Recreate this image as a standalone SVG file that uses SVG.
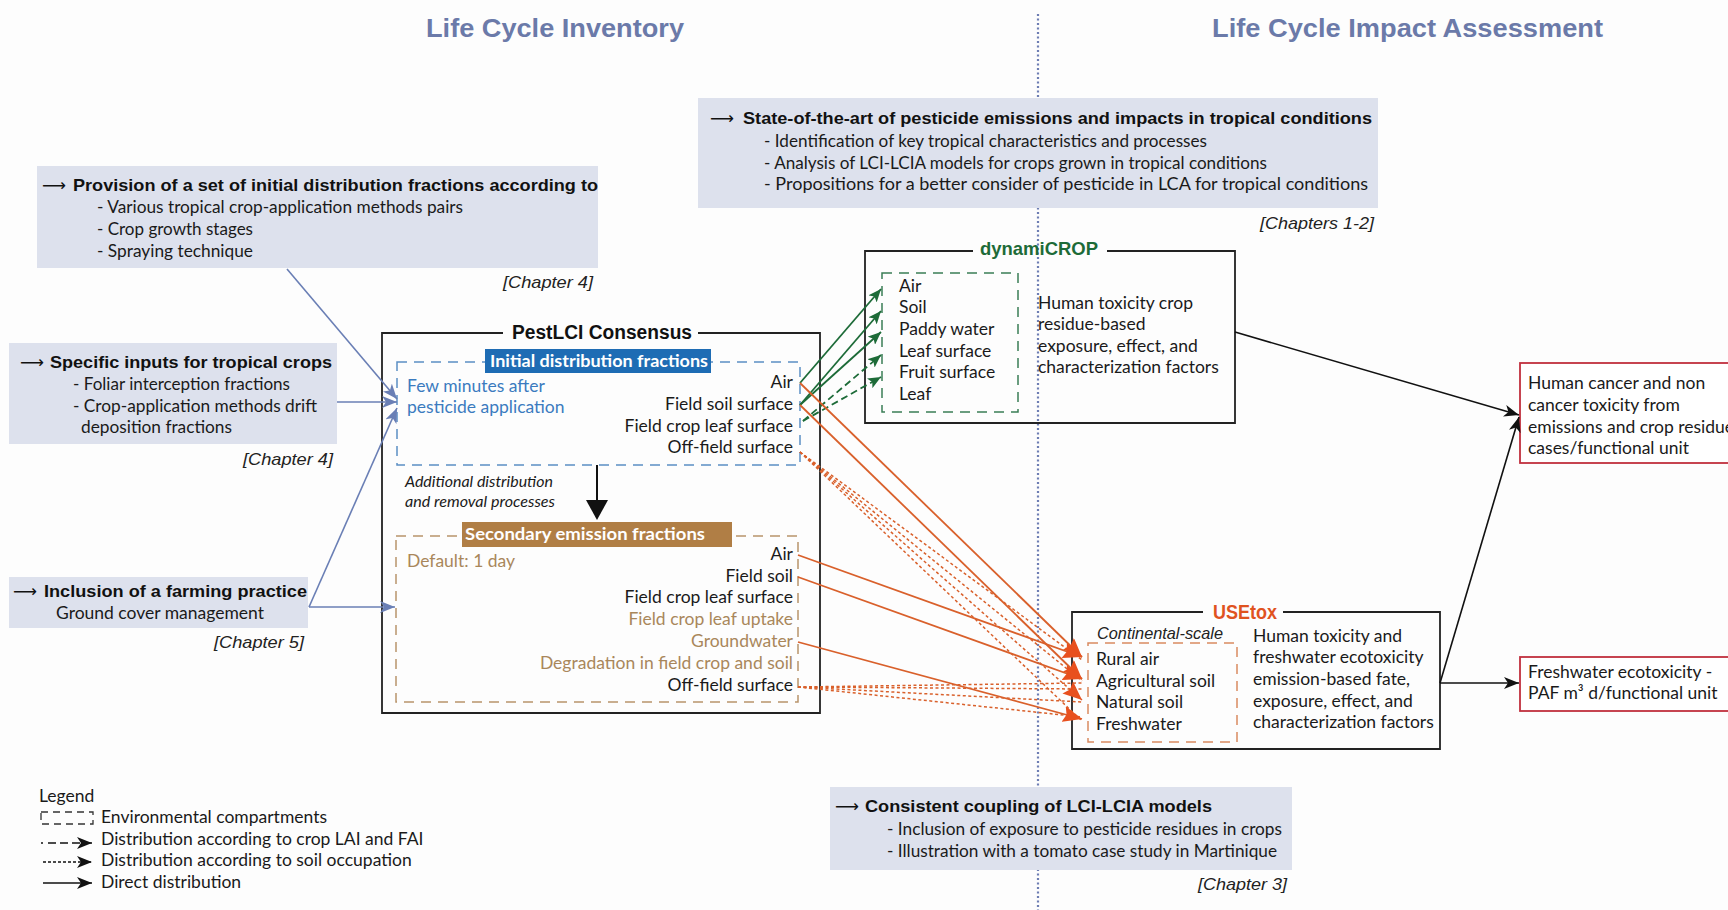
<svg xmlns="http://www.w3.org/2000/svg" width="1728" height="910" viewBox="0 0 1728 910">
<defs>
<style>
.t{font-family:Lato,"Open Sans","Liberation Sans",sans-serif;font-size:17.5px;fill:#1a1a1a}
.ti{font-family:Lato,"Open Sans",sans-serif;font-style:italic;font-size:16px;fill:#1a1a1a}
.b{font-family:"Liberation Sans",Arial,sans-serif;font-weight:bold;font-size:17px;fill:#111}
.arw{font-family:"DejaVu Sans","Liberation Sans",sans-serif;font-size:17px;fill:#111}
.ch{font-family:"Liberation Sans",Arial,sans-serif;font-style:italic;font-size:17px;fill:#222}
.hdr{font-family:"Liberation Sans",Arial,sans-serif;font-weight:bold;font-size:25px;fill:#6b7aa9}
.lbl{font-family:Lato,"Open Sans",sans-serif;font-weight:bold;font-size:17.5px;fill:#fff}
.gbox{fill:#dde1ed}
.frame{fill:none;stroke:#222;stroke-width:1.8}
.blue{stroke:#6a7fb5;stroke-width:1.6;fill:none;marker-end:url(#ab)}
.grn{stroke:#1d6b38;stroke-width:1.8;fill:none;marker-end:url(#ag)}
.grnd{stroke:#1d6b38;stroke-width:1.8;fill:none;stroke-dasharray:7 4;marker-end:url(#ag)}
.or{stroke:#d9602b;stroke-width:1.8;fill:none}
.ord{stroke:#d9602b;stroke-width:1.5;fill:none;stroke-dasharray:3 2.5}
.blk{stroke:#111;stroke-width:1.6;fill:none;marker-end:url(#ak)}
</style>
<marker id="ab" markerUnits="userSpaceOnUse" markerWidth="16" markerHeight="12" refX="15" refY="6" orient="auto"><path d="M0,0 L15,6 L0,12 L4,6 z" fill="#6a7fb5"/></marker>
<marker id="ag" markerUnits="userSpaceOnUse" markerWidth="14" markerHeight="11" refX="13" refY="5.5" orient="auto"><path d="M0,0 L13,5.5 L0,11 L3,5.5 z" fill="#1d6b38"/></marker>
<marker id="ao" markerUnits="userSpaceOnUse" markerWidth="20" markerHeight="16" refX="19" refY="8" orient="auto"><path d="M0,0 L19,8 L0,16 L3,8 z" fill="#e8501e"/></marker>
<marker id="ak" markerUnits="userSpaceOnUse" markerWidth="16" markerHeight="12" refX="15" refY="6" orient="auto"><path d="M0,0 L15,6 L0,12 L4,6 z" fill="#111"/></marker>
</defs>
<rect x="0" y="0" width="1728" height="910" fill="#fdfdfd"/>

<g id="headers">
<line x1="1038" y1="14" x2="1038" y2="910" stroke="#6d7db3" stroke-width="2.2" stroke-dasharray="2 2.5"/>
<text class="hdr" x="426" y="37" textLength="258" lengthAdjust="spacingAndGlyphs">Life Cycle Inventory</text>
<text class="hdr" x="1212" y="37" textLength="391" lengthAdjust="spacingAndGlyphs">Life Cycle Impact Assessment</text>
</g>

<g id="box-state">
<rect class="gbox" x="698" y="98" width="680" height="110"/>
<text class="arw" x="710" y="124" textLength="24" lengthAdjust="spacingAndGlyphs">⟶</text>
<text class="b" x="743" y="124" textLength="629" lengthAdjust="spacingAndGlyphs">State-of-the-art of pesticide emissions and impacts in tropical conditions</text>
<text class="t" x="764" y="147" textLength="443" lengthAdjust="spacingAndGlyphs">- Identification of key tropical characteristics and processes</text>
<text class="t" x="764" y="169" textLength="503" lengthAdjust="spacingAndGlyphs">- Analysis of LCI-LCIA models for crops grown in tropical conditions</text>
<text class="t" x="764" y="190" textLength="604" lengthAdjust="spacingAndGlyphs">- Propositions for a better consider of pesticide in LCA for tropical conditions</text>
<text class="ch" x="1260" y="229" textLength="114" lengthAdjust="spacingAndGlyphs">[Chapters 1-2]</text>
</g>

<g id="box-provision">
<rect class="gbox" x="37" y="166" width="561" height="102"/>
<text class="arw" x="42" y="191" textLength="24" lengthAdjust="spacingAndGlyphs">⟶</text>
<text class="b" x="73" y="191" textLength="525" lengthAdjust="spacingAndGlyphs">Provision of a set of initial distribution fractions according to</text>
<text class="t" x="97" y="213" textLength="366" lengthAdjust="spacingAndGlyphs">- Various tropical crop-application methods pairs</text>
<text class="t" x="97" y="235" textLength="156" lengthAdjust="spacingAndGlyphs">- Crop growth stages</text>
<text class="t" x="97" y="257" textLength="156" lengthAdjust="spacingAndGlyphs">- Spraying technique</text>
<text class="ch" x="503" y="288" textLength="90" lengthAdjust="spacingAndGlyphs">[Chapter 4]</text>
</g>

<g id="box-specific">
<rect class="gbox" x="9" y="343" width="328" height="101"/>
<text class="arw" x="20" y="368" textLength="24" lengthAdjust="spacingAndGlyphs">⟶</text>
<text class="b" x="50" y="368" textLength="282" lengthAdjust="spacingAndGlyphs">Specific inputs for tropical crops</text>
<text class="t" x="73" y="390" textLength="217" lengthAdjust="spacingAndGlyphs">- Foliar interception fractions</text>
<text class="t" x="73" y="412" textLength="244" lengthAdjust="spacingAndGlyphs">- Crop-application methods drift</text>
<text class="t" x="81" y="433" textLength="151" lengthAdjust="spacingAndGlyphs">deposition fractions</text>
<text class="ch" x="243" y="465" textLength="90" lengthAdjust="spacingAndGlyphs">[Chapter 4]</text>
</g>

<g id="box-farming">
<rect class="gbox" x="9" y="577" width="299" height="51"/>
<text class="arw" x="13" y="597" textLength="24" lengthAdjust="spacingAndGlyphs">⟶</text>
<text class="b" x="44" y="597" textLength="263" lengthAdjust="spacingAndGlyphs">Inclusion of a farming practice</text>
<text class="t" x="56" y="619" textLength="208" lengthAdjust="spacingAndGlyphs">Ground cover management</text>
<text class="ch" x="214" y="648" textLength="90" lengthAdjust="spacingAndGlyphs">[Chapter 5]</text>
</g>

<g id="box-coupling">
<rect class="gbox" x="830" y="787" width="462" height="83"/>
<text class="arw" x="835" y="812" textLength="24" lengthAdjust="spacingAndGlyphs">⟶</text>
<text class="b" x="865" y="812" textLength="347" lengthAdjust="spacingAndGlyphs">Consistent coupling of LCI-LCIA models</text>
<text class="t" x="887" y="835" textLength="395" lengthAdjust="spacingAndGlyphs">- Inclusion of exposure to pesticide residues in crops</text>
<text class="t" x="887" y="857" textLength="390" lengthAdjust="spacingAndGlyphs">- Illustration with a tomato case study in Martinique</text>
<text class="ch" x="1198" y="890" textLength="89" lengthAdjust="spacingAndGlyphs">[Chapter 3]</text>
</g>

<g id="pestlci">
<path class="frame" d="M503,333 L382,333 L382,713 L820,713 L820,333 L698,333"/>
<text class="b" x="512" y="339" style="font-size:20px" textLength="180" lengthAdjust="spacingAndGlyphs">PestLCI Consensus</text>
<rect x="397" y="362" width="403" height="103" fill="none" stroke="#5b8ec4" stroke-width="1.5" stroke-dasharray="10 7"/>
<rect x="485" y="349" width="226" height="24" fill="#1e6cb4"/>
<text class="lbl" x="490" y="367" textLength="218" lengthAdjust="spacingAndGlyphs">Initial distribution fractions</text>
<text class="t" x="407" y="392" style="fill:#3b7bbf">Few minutes after</text>
<text class="t" x="407" y="413" style="fill:#3b7bbf">pesticide application</text>
<g text-anchor="end">
<text class="t" x="793" y="388">Air</text>
<text class="t" x="793" y="410">Field soil surface</text>
<text class="t" x="793" y="432">Field crop leaf surface</text>
<text class="t" x="793" y="453">Off-field surface</text>
</g>
<line x1="597" y1="465" x2="597" y2="503" stroke="#111" stroke-width="2"/>
<polygon points="586,500 608,500 597,520" fill="#111"/>
<text class="ti" x="405" y="487" textLength="148" lengthAdjust="spacingAndGlyphs">Additional distribution</text>
<text class="ti" x="405" y="507" textLength="150" lengthAdjust="spacingAndGlyphs">and removal processes</text>
<rect x="396" y="536" width="402" height="166" fill="none" stroke="#b8946b" stroke-width="1.5" stroke-dasharray="10 7"/>
<rect x="462" y="522" width="270" height="25" fill="#b07e45"/>
<text class="lbl" x="465" y="540" textLength="240" lengthAdjust="spacingAndGlyphs">Secondary emission fractions</text>
<text class="t" x="407" y="567" style="fill:#a9875b">Default: 1 day</text>
<g text-anchor="end">
<text class="t" x="793" y="560">Air</text>
<text class="t" x="793" y="582">Field soil</text>
<text class="t" x="793" y="603">Field crop leaf surface</text>
<text class="t" x="793" y="625" style="fill:#a9875b">Field crop leaf uptake</text>
<text class="t" x="793" y="647" style="fill:#a9875b">Groundwater</text>
<text class="t" x="793" y="669" style="fill:#a9875b">Degradation in field crop and soil</text>
<text class="t" x="793" y="691">Off-field surface</text>
</g>
</g>

<g id="dynamicrop">
<path class="frame" d="M973,251 L865,251 L865,423 L1235,423 L1235,251 L1107,251"/>
<text class="b" x="980" y="255" style="font-size:19px;fill:#1d6b38" textLength="118" lengthAdjust="spacingAndGlyphs">dynamiCROP</text>
<rect x="882" y="273" width="136" height="139" fill="none" stroke="#3a7d55" stroke-width="1.5" stroke-dasharray="10 7"/>
<text class="t" x="899" y="292">Air</text>
<text class="t" x="899" y="313">Soil</text>
<text class="t" x="899" y="335">Paddy water</text>
<text class="t" x="899" y="357">Leaf surface</text>
<text class="t" x="899" y="378">Fruit surface</text>
<text class="t" x="899" y="400">Leaf</text>
<text class="t" x="1038" y="309">Human toxicity crop</text>
<text class="t" x="1038" y="330">residue-based</text>
<text class="t" x="1038" y="352">exposure, effect, and</text>
<text class="t" x="1038" y="373">characterization factors</text>
</g>

<g id="usetox">
<path class="frame" d="M1203,612 L1072,612 L1072,749 L1440,749 L1440,612 L1283,612"/>
<text class="b" x="1213" y="619" style="font-size:20px;fill:#e0531f" textLength="64" lengthAdjust="spacingAndGlyphs">USEtox</text>
<text class="ch" x="1097" y="639" textLength="126" lengthAdjust="spacingAndGlyphs">Continental-scale</text>
<rect x="1088" y="643" width="149" height="99" fill="none" stroke="#d98a60" stroke-width="1.5" stroke-dasharray="10 7"/>
<text class="t" x="1096" y="665">Rural air</text>
<text class="t" x="1096" y="687">Agricultural soil</text>
<text class="t" x="1096" y="708">Natural soil</text>
<text class="t" x="1096" y="730">Freshwater</text>
<text class="t" x="1253" y="642">Human toxicity and</text>
<text class="t" x="1253" y="663">freshwater ecotoxicity</text>
<text class="t" x="1253" y="685">emission-based fate,</text>
<text class="t" x="1253" y="707">exposure, effect, and</text>
<text class="t" x="1253" y="728">characterization factors</text>
</g>

<g id="result-human">
<rect x="1520" y="363" width="230" height="100" fill="#fff" stroke="#c0303e" stroke-width="1.8"/>
<text class="t" x="1528" y="389">Human cancer and non</text>
<text class="t" x="1528" y="411">cancer toxicity from</text>
<text class="t" x="1528" y="433">emissions and crop residue</text>
<text class="t" x="1528" y="454">cases/functional unit</text>
</g>

<g id="result-eco">
<rect x="1520" y="657" width="230" height="54" fill="#fff" stroke="#c0303e" stroke-width="1.8"/>
<text class="t" x="1528" y="678">Freshwater ecotoxicity -</text>
<text class="t" x="1528" y="699">PAF m³ d/functional unit</text>
</g>

<g id="connectors">
<path class="blue" d="M287,269 L397,399"/>
<path class="blue" d="M337,402 L397,402"/>
<path class="blue" d="M309,607 L397,408"/>
<path class="blue" d="M309,607 L395,607"/>

<path class="grn" d="M800,383 L881,289"/>
<path class="grn" d="M800,405 L881,311"/>
<path class="grn" d="M800,405 L881,332"/>
<path class="grnd" d="M803,421 L881,355"/>
<path class="grnd" d="M803,421 L881,377"/>

<path class="ord" d="M800,452 L1082,660"/>
<path class="ord" d="M800,452 L1082,681"/>
<path class="ord" d="M800,452 L1082,700" marker-end="url(#ao)"/>
<path class="ord" d="M800,452 L1082,721"/>
<path class="ord" d="M798,687 L1082,683"/>
<path class="ord" d="M798,687 L1082,689"/>
<path class="ord" d="M798,687 L1082,702"/>
<path class="ord" d="M798,687 L1082,717"/>
<path class="or" d="M800,383 L1082,657" marker-end="url(#ao)"/>
<path class="or" d="M800,405 L1082,679" marker-end="url(#ao)"/>
<path class="or" d="M798,555 L1082,657" marker-end="url(#ao)"/>
<path class="or" d="M798,577 L1082,679" marker-end="url(#ao)"/>
<path class="or" d="M798,642 L1082,719" marker-end="url(#ao)"/>

<path class="blk" d="M1235,332 L1519,415"/>
<path class="blk" d="M1440,683 L1519,417"/>
<path class="blk" d="M1440,683 L1519,683"/>
</g>

<g id="legend">
<text class="t" x="39" y="802">Legend</text>
<rect x="41" y="812" width="52" height="12" fill="none" stroke="#333" stroke-width="1.3" stroke-dasharray="7 5"/>
<line x1="41" y1="843" x2="43" y2="843" stroke="#111" stroke-width="1.5"/>
<line x1="48" y1="843" x2="92" y2="843" stroke="#111" stroke-width="1.5" stroke-dasharray="8 4" marker-end="url(#ak)"/>
<line x1="43" y1="862" x2="92" y2="862" stroke="#111" stroke-width="1.5" stroke-dasharray="3 2" marker-end="url(#ak)"/>
<line x1="43" y1="883" x2="92" y2="883" stroke="#111" stroke-width="1.5" marker-end="url(#ak)"/>
<text class="t" x="101" y="823">Environmental compartments</text>
<text class="t" x="101" y="845">Distribution according to crop LAI and FAI</text>
<text class="t" x="101" y="866">Distribution according to soil occupation</text>
<text class="t" x="101" y="888">Direct distribution</text>
</g>
</svg>
